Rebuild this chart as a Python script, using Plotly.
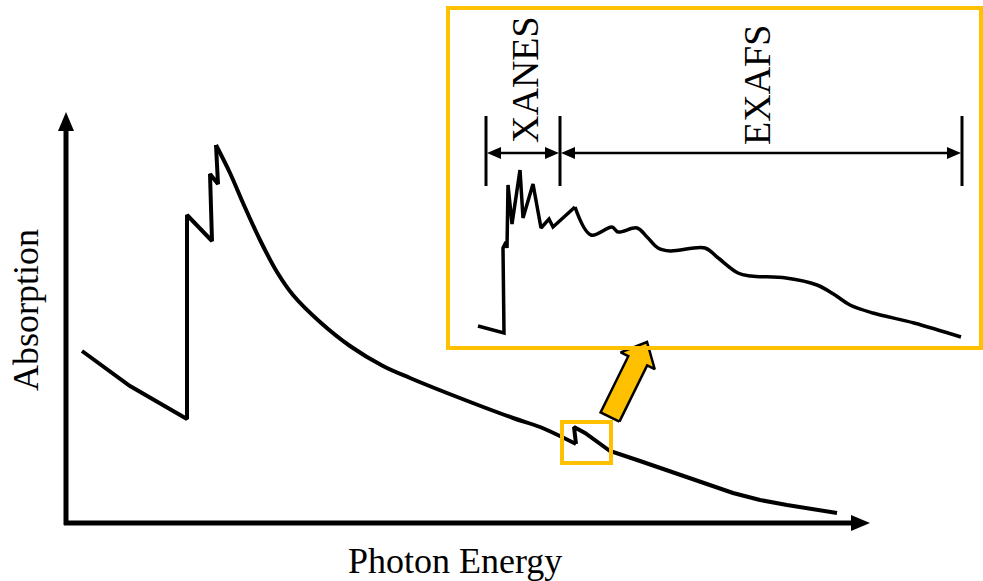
import numpy as np
import plotly.graph_objects as go

W, H = 983, 581
FONT = "Liberation Serif, Times New Roman, serif"
ORANGE = "#FFC000"

# ---- main absorption spectrum (schematic, page-pixel units) ----
edge_energy = [82, 130, 187, 187, 212, 210, 218, 216]
edge_absorb = [351, 386, 419, 215, 241, 174, 184, 145]
decay_energy = [216, 230, 243, 260, 277, 293, 320, 350, 383, 410, 447, 513, 540, 576]
decay_absorb = [145, 173, 203, 240, 272, 295, 322, 346, 366, 378, 393, 418, 427, 444]
tail_energy = [576, 574, 585, 610, 640, 667, 700, 733, 760, 787, 837]
tail_absorb = [444, 427, 433, 451, 461, 470, 482, 493, 500, 505, 513]

# ---- inset (zoom on small edge) ----
xanes_energy = [478, 504, 503, 506, 507, 508, 512, 520, 523, 533, 541, 549, 553, 575]
xanes_absorb = [326, 333, 248, 242, 248, 185, 224, 170, 218, 184, 228, 219, 227, 207]
exafs_energy = [575, 591, 612, 618, 637, 647, 658, 670, 705, 717, 738, 751, 786, 817, 835, 850, 873, 914, 961]
exafs_absorb = [207, 235, 227, 232, 228, 237, 248, 251, 248, 257, 273, 276, 278, 285, 295, 305, 313, 323, 337]

region_bounds = [486, 560, 962]
region_labels = ["XANES", "EXAFS"]

fig = go.Figure()

def line(x, y, shape="linear", width=4):
    fig.add_trace(go.Scatter(x=x, y=y, mode="lines",
                             line=dict(color="black", width=width, shape=shape),
                             hoverinfo="skip"))

line(edge_energy, edge_absorb)
line(decay_energy, decay_absorb, shape="spline")
line(tail_energy, tail_absorb)
line(xanes_energy, xanes_absorb, width=3.5)
line(exafs_energy, exafs_absorb, shape="spline", width=3.5)

def poly(xs, ys, fill, outline="black", w=0):
    fig.add_trace(go.Scatter(x=list(xs) + [xs[0]], y=list(ys) + [ys[0]], mode="lines",
                             fill="toself", fillcolor=fill,
                             line=dict(color=outline, width=w), hoverinfo="skip"))

# axes with arrowheads
AX_X0, AX_Y0 = 66, 523
Y_TIP, X_TIP = 112, 870
shapes = [
    dict(type="line", x0=AX_X0, y0=AX_Y0 + 2, x1=AX_X0, y1=Y_TIP + 15, line=dict(color="black", width=5)),
    dict(type="line", x0=AX_X0 - 2, y0=AX_Y0, x1=X_TIP - 15, y1=AX_Y0, line=dict(color="black", width=5)),
    # inset frame
    dict(type="rect", x0=448, y0=8, x1=981, y1=348, line=dict(color=ORANGE, width=4)),
    # small box
    dict(type="rect", x0=562, y0=422, x1=611, y1=463, line=dict(color=ORANGE, width=4)),
]
poly([AX_X0, AX_X0 - 8, AX_X0 + 8], [Y_TIP, Y_TIP + 19, Y_TIP + 19], "black")
poly([X_TIP, X_TIP - 19, X_TIP - 19], [AX_Y0, AX_Y0 - 8, AX_Y0 + 8], "black")

# region markers in inset
BAR_TOP, BAR_BOT, ARR_Y = 116, 186, 153
for bx in region_bounds:
    shapes.append(dict(type="line", x0=bx, y0=BAR_TOP, x1=bx, y1=BAR_BOT, line=dict(color="black", width=3)))
for a, b in zip(region_bounds[:-1], region_bounds[1:]):
    shapes.append(dict(type="line", x0=a + 10, y0=ARR_Y, x1=b - 10, y1=ARR_Y, line=dict(color="black", width=2.5)))
    poly([a + 1, a + 15, a + 15], [ARR_Y, ARR_Y - 6, ARR_Y + 6], "black")
    poly([b - 1, b - 15, b - 15], [ARR_Y, ARR_Y - 6, ARR_Y + 6], "black")

# big orange arrow
T = np.array([610.0, 417.0]); P = np.array([647.0, 342.0])
d = (P - T) / np.linalg.norm(P - T); n = np.array([-d[1], d[0]])
hw, hh, hl = 10.5, 19.0, 21.0
B = P - d * hl
pts = [T + n * hw, B + n * hw, B + n * hh, P, B - n * hh, B - n * hw, T - n * hw]
poly([p[0] for p in pts], [p[1] for p in pts], ORANGE, "black", 2.5)

ann = [
    dict(x=455, y=561, text="Photon Energy", showarrow=False, font=dict(family=FONT, size=36, color="black")),
    dict(x=26, y=310, text="Absorption", textangle=-90, showarrow=False, font=dict(family=FONT, size=36, color="black")),
]
label_pos = [(525, 80), (757, 85)]
for (lx, ly), t in zip(label_pos, region_labels):
    ann.append(dict(x=lx, y=ly, text=t, textangle=-90, showarrow=False,
                    font=dict(family=FONT, size=38, color="black")))

fig.update_layout(
    width=W, height=H, margin=dict(l=0, r=0, t=0, b=0),
    paper_bgcolor="white", plot_bgcolor="white", showlegend=False,
    xaxis=dict(range=[0, W], visible=False, fixedrange=True),
    yaxis=dict(range=[H, 0], visible=False, fixedrange=True),
    shapes=shapes, annotations=ann,
)
fig.write_html("out.html")
